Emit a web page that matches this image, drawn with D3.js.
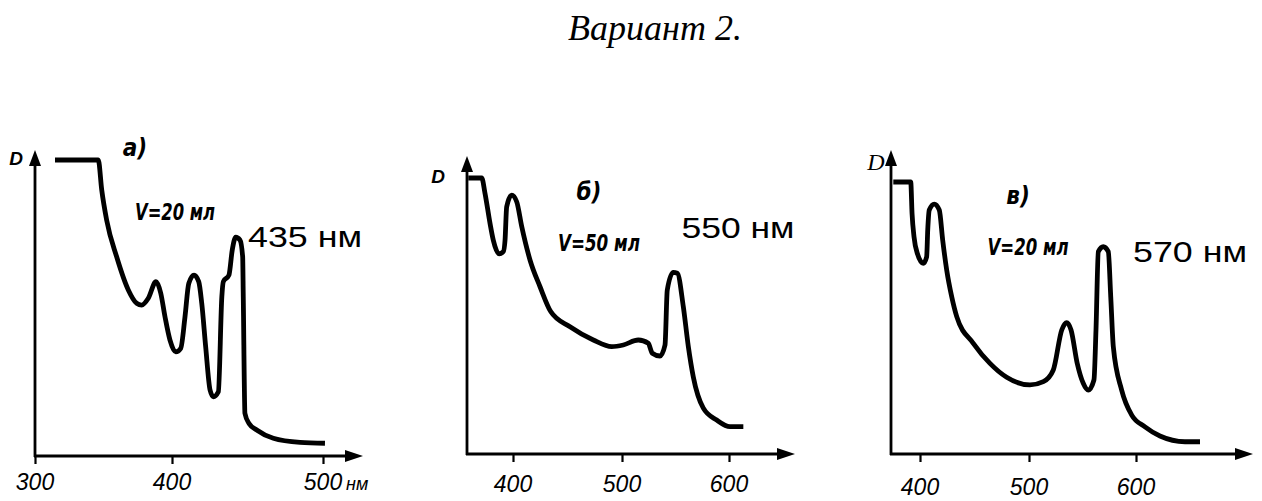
<!DOCTYPE html>
<html>
<head>
<meta charset="utf-8">
<script src="https://d3js.org/d3.v7.min.js"></script>
<style>
  body { margin: 0; background: #fff; }
  .curve { fill: none; stroke: #000; stroke-width: 4.8; stroke-linejoin: round; stroke-linecap: butt; }
  .frame { stroke: #000; stroke-width: 2.8; fill: none; }
  .tick-lab { font-family: "Liberation Sans", Arial, sans-serif; font-style: italic; font-size: 23px; }
  .narrow { font-family: "Liberation Sans Narrow", "DejaVu Sans Condensed", sans-serif; font-style: italic; font-weight: bold; }
  .peak { font-family: "Liberation Sans", Arial, sans-serif; font-size: 30px; }
</style>
</head>
<body>
<div id="chart"></div>
<script>
// spectra: wavelength (nm) and optical density (100 = flat top)
const waveA = [314.6, 346.2, 348.7, 352.3, 359.6, 368.1, 374.2, 377.9, 382.7, 388.3, 391.8, 394.9, 398.5, 402.5, 405.8, 408.6, 411.1, 414.6, 417.7, 419.7, 422.3, 425.2, 427.4, 430.7, 433.0, 434.0, 437.7, 439.9, 442.2, 445.0, 446.8, 447.2, 448.3, 451.0, 456.1, 467.1, 484.8, 501.3];
const densA = [100, 100, 89.9, 79.7, 67.3, 56.1, 51.6, 51.0, 53.3, 58.9, 55.0, 47.0, 39.2, 35.2, 36.4, 47.0, 58.3, 61.1, 58.9, 51.6, 36.9, 22.3, 20.0, 21.7, 53.8, 58.9, 61.1, 69.6, 73.9, 73.0, 67.3, 53.8, 14.4, 11.0, 8.8, 6.0, 4.6, 4.3];

const waveB = [359.0, 371.3, 374.3, 378.9, 381.9, 387.2, 391.1, 392.7, 394.2, 398.8, 403.4, 408.0, 415.6, 424.8, 434.6, 452.3, 473.7, 490.6, 501.2, 515.2, 524.6, 528.3, 535.5, 540.2, 542.3, 547.9, 551.7, 557.3, 562.0, 566.6, 576.0, 588.5, 600.9, 613.4];
const densB = [100, 100, 94.5, 83.6, 77.5, 72.5, 73.3, 77.5, 89.6, 93.8, 91.4, 82.4, 70.3, 60.6, 51.6, 46.1, 41.3, 38.9, 39.5, 41.3, 40.1, 36.5, 35.5, 39.5, 59.4, 65.8, 65.5, 53.4, 38.9, 28.0, 16.6, 12.3, 9.9, 9.9];

const waveC = [375.5, 391.5, 392.7, 394.5, 397.5, 403.0, 406.1, 407.1, 408.5, 413.1, 417.7, 420.8, 424.5, 429.1, 433.7, 448.9, 464.2, 479.5, 500.9, 513.4, 522.7, 530.6, 535.2, 539.3, 545.1, 550.7, 555.4, 560.7, 562.6, 564.8, 569.4, 574.1, 576.4, 578.8, 586.6, 596.0, 608.4, 622.4, 645.8, 659.8];
const densC = [100, 100, 88.5, 79.9, 73.8, 70.1, 72.5, 82.4, 89.7, 91.9, 89.7, 78.7, 67.6, 57.8, 50.5, 40.7, 33.3, 28.2, 25.4, 26.6, 30.9, 45.6, 48.3, 45.6, 33.3, 26.0, 23.5, 27.2, 45.6, 74.4, 76.2, 74.4, 57.8, 39.4, 23.5, 14.3, 10.0, 6.6, 4.5, 4.5];

const ticksA = [300, 400, 500];
const ticksB = [400, 500, 600];
const ticksC = [400, 500, 600];

const panelNames = ["а)", "б)", "в)"];
const volumes = ["V=20 мл", "V=50 мл", "V=20 мл"];
const peakLabels = ["435 нм", "550 нм", "570 нм"];

// layout of each hand-drawn panel (pixels)
const layout = [
  { wave: waveA, dens: densA, ticks: ticksA, tickPx: [35, 172, 323], axisX: 35, base: 456, top: 160, tipY: 150, tipX: 363,
    dLab: [16, 165], dSerif: false, nameAt: [135, 156], volAt: [175, 220, 80], peakAt: [305, 247, 114], labY: 490, unit: true },
  { wave: waveB, dens: densB, ticks: ticksB, tickPx: [513, 622, 729], axisX: 467, base: 454, top: 178, tipY: 156, tipX: 795,
    dLab: [438, 183], dSerif: false, nameAt: [589, 200], volAt: [599, 251, 82], peakAt: [738, 238, 113], labY: 492, unit: false },
  { wave: waveC, dens: densC, ticks: ticksC, tickPx: [920, 1029, 1136], axisX: 891, base: 454, top: 182, tipY: 150, tipX: 1253,
    dLab: [876, 170], dSerif: true, nameAt: [1018, 204], volAt: [1028, 255, 81], peakAt: [1190, 262, 114], labY: 495, unit: false }
];

const W = 1262, H = 501;
const svg = d3.select("#chart").append("svg")
  .attr("width", W).attr("height", H);

svg.append("text")
  .attr("x", 655).attr("y", 40)
  .attr("text-anchor", "middle")
  .style("font-family", "'Liberation Serif', 'Times New Roman', serif")
  .style("font-style", "italic")
  .style("font-size", "36px")
  .text("Вариант 2.");

layout.forEach((p, i) => {
  const g = svg.append("g");

  // hand-drawn axes are a little uneven, so a piecewise scale through the ticks
  const x = d3.scaleLinear().domain(p.ticks).range(p.tickPx);
  const y = d3.scaleLinear().domain([0, 100]).range([p.base, p.top]);

  // y axis with arrow
  g.append("line").attr("class", "frame")
    .attr("x1", p.axisX).attr("x2", p.axisX)
    .attr("y1", p.base + 1).attr("y2", p.tipY + 10);
  g.append("path")
    .attr("d", `M${p.axisX},${p.tipY} L${p.axisX - 6},${p.tipY + 16} L${p.axisX + 6},${p.tipY + 16} Z`)
    .attr("fill", "#000");

  // x axis with arrow
  g.append("line").attr("class", "frame")
    .attr("x1", p.axisX - 1).attr("x2", p.tipX - 10)
    .attr("y1", p.base).attr("y2", p.base);
  g.append("path")
    .attr("d", `M${p.tipX},${p.base} L${p.tipX - 18},${p.base - 6} L${p.tipX - 18},${p.base + 6} Z`)
    .attr("fill", "#000");

  // ticks
  const ax = g.append("g")
    .attr("transform", `translate(0,${p.base})`)
    .call(d3.axisBottom(x).tickValues(p.ticks).tickSize(8).tickSizeOuter(0).tickFormat(""));
  ax.select(".domain").remove();
  ax.selectAll(".tick line").attr("stroke", "#000").attr("stroke-width", 2.2);

  g.selectAll(".tick-lab")
    .data(p.ticks)
    .join("text")
    .attr("class", "tick-lab")
    .attr("x", d => x(d))
    .attr("y", p.labY)
    .attr("text-anchor", "middle")
    .text(d => d);

  if (p.unit) {
    g.append("text").attr("class", "tick-lab")
      .attr("x", x(p.ticks[2]) + 23).attr("y", p.labY)
      .style("font-size", "18px")
      .text("нм");
  }

  // D label
  g.append("text")
    .attr("x", p.dLab[0]).attr("y", p.dLab[1])
    .attr("text-anchor", "middle")
    .style("font-family", p.dSerif ? "'Liberation Serif', serif" : "'Liberation Sans', Arial, sans-serif")
    .style("font-style", "italic")
    .style("font-weight", p.dSerif ? "normal" : "bold")
    .style("font-size", p.dSerif ? "24px" : "19px")
    .text("D");

  // panel letter and volume
  g.append("text").attr("class", "narrow")
    .attr("x", p.nameAt[0]).attr("y", p.nameAt[1])
    .attr("text-anchor", "middle")
    .style("font-size", "24px")
    .text(panelNames[i]);

  g.append("text").attr("class", "narrow")
    .attr("x", p.volAt[0] - p.volAt[2] / 2).attr("y", p.volAt[1])
    .attr("textLength", p.volAt[2]).attr("lengthAdjust", "spacingAndGlyphs")
    .style("font-size", "23px")
    .text(volumes[i]);

  g.append("text").attr("class", "peak")
    .attr("x", p.peakAt[0] - p.peakAt[2] / 2).attr("y", p.peakAt[1])
    .attr("textLength", p.peakAt[2]).attr("lengthAdjust", "spacingAndGlyphs")
    .text(peakLabels[i]);

  // spectrum
  const pts = p.wave.map((w, k) => [w, p.dens[k]]);
  g.append("path")
    .datum(pts)
    .attr("class", "curve")
    .attr("d", d3.line()
      .curve(d3.curveMonotoneX)
      .x(d => x(d[0]))
      .y(d => y(d[1])));
});
</script>
</body>
</html>
